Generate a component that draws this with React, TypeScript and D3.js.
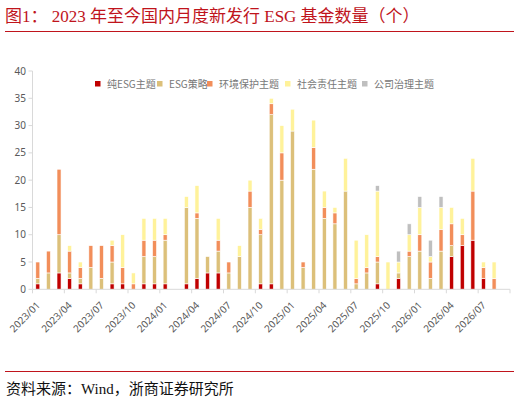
import React from "react";
import * as d3 from "d3";

const months = [
  "2023/01","2023/02","2023/03","2023/04","2023/05","2023/06","2023/07","2023/08","2023/09","2023/10","2023/11","2023/12",
  "2024/01","2024/02","2024/03","2024/04","2024/05","2024/06","2024/07","2024/08","2024/09","2024/10","2024/11","2024/12",
  "2025/01","2025/02","2025/03","2025/04","2025/05","2025/06","2025/07","2025/08","2025/09","2025/10","2025/11","2025/12",
  "2026/01","2026/02","2026/03","2026/04","2026/05","2026/06","2026/07","2026/08","2026/09",
];
const tickLabels = ["2023/01","2023/04","2023/07","2023/10","2024/01","2024/04","2024/07","2024/10","2025/01","2025/04","2025/07","2025/10","2026/01","2026/04","2026/07"];

const pureESG =   [1,0,3,2,1,0,0,1,1,0,1,1,1,0,1,2,3,3,0,0,0,1,1,0,0,0,0,0,0,0,0,0,1,0,2,0,0,0,0,6,8,9,2,0,0];
const strategy =  [1,3,7,1,1,4,2,4,0,0,5,5,8,0,14,11,3,4,3,6,15,9,31,20,29,4,22,13,12,18,1,3,4,0,1,6,7,2,7,2,0,0,0,0,0];
const environ =   [3,4,12,4,2,4,6,3,3,1,3,3,1,0,0,1,0,2,2,0,3,1,2,5,0,1,4,2,2,0,1,1,1,0,0,1,3,3,4,4,2,9,2,2,0];
const social =    [0,0,0,1,1,0,0,1,6,2,4,4,3,0,2,5,0,4,0,2,2,2,1,5,4,0,5,3,1,6,7,6,12,5,2,3,5,1,4,3,3,6,1,3,0];
const governance =[0,0,0,0,0,0,0,0,0,0,0,0,0,0,0,0,0,0,0,0,0,0,0,0,0,0,0,0,0,0,0,0,1,0,2,2,2,3,2,0,0,0,0,0,0];

const seriesNames = ["纯ESG主题", "ESG策略", "环境保护主题", "社会责任主题", "公司治理主题"];
const seriesColors = ["#C00000", "#DCC07A", "#F28E5A", "#FFF29A", "#BFBFBF"];
const yTicks = [0, 5, 10, 15, 20, 25, 30, 35, 40];

const W = 520, H = 403;
const X0 = 32.5, X1 = 510, Y0 = 289.3, Y1 = 71;
const legendX = [95, 157, 207, 285, 362];
const numFont = "'Noto Sans', sans-serif";
const cjkFont = "'Noto Sans CJK SC', 'Noto Sans', sans-serif";
const serifFont = "'Liberation Serif', 'Noto Sans CJK SC', serif";

export default function App() {
  const keys = ["s0", "s1", "s2", "s3", "s4"];
  const allSeries = [pureESG, strategy, environ, social, governance];
  const table = months.map((m, i) => {
    const row: any = { month: m };
    keys.forEach((k, j) => (row[k] = allSeries[j][i]));
    return row;
  });
  const stacked = d3.stack<any>().keys(keys)(table);

  const x = d3.scaleBand<string>().domain(months).range([X0, X1]).paddingInner(0.62).paddingOuter(0.31);
  const y = d3.scaleLinear().domain([0, 40]).range([Y0, Y1]);
  const step = x.step();
  const bw = x.bandwidth();

  const tickIdx = d3.range(0, months.length + 1, 3);

  return (
    <svg width={W} height={H} style={{ position: "absolute", left: 0, top: 0, background: "#fff" }}>
      <rect x={0} y={0} width={W} height={H} fill="#fff" />
      {/* title */}
      <text x={5} y={22} fontFamily={serifFont} fontSize={17} fill="#C0141C">
        图1：  2023 年至今国内月度新发行 ESG 基金数量（个）
      </text>
      <line x1={5} x2={514} y1={31.5} y2={31.5} stroke="#C0141C" strokeWidth={1} />

      {/* legend */}
      {seriesNames.map((n, i) => (
        <g key={n}>
          <rect x={legendX[i]} y={81} width={5.5} height={5.5} fill={seriesColors[i]} />
          <text x={legendX[i] + 12} y={88} fontFamily={cjkFont} fontSize={10} fill="#777">
            {n}
          </text>
        </g>
      ))}

      {/* y axis */}
      <line x1={X0} x2={X0} y1={y(40)} y2={Y0} stroke="#D9D9D9" />
      {yTicks.map((t) => (
        <g key={t}>
          <line x1={X0 - 4} x2={X0} y1={y(t)} y2={y(t)} stroke="#D9D9D9" />
          <text x={26} y={y(t) + 3.5} textAnchor="end" fontFamily={numFont} fontSize={10} fill="#595959">
            {t}
          </text>
        </g>
      ))}

      {/* bars */}
      {stacked.map((s, si) =>
        s.map((d, i) => {
          const v = d[1] - d[0];
          if (v <= 0) return null;
          return (
            <rect
              key={si + "-" + i}
              x={x(months[i])}
              y={y(d[1])}
              width={bw}
              height={y(d[0]) - y(d[1])}
              fill={seriesColors[si]}
              stroke="#fff"
              strokeWidth={0.6}
            />
          );
        })
      )}

      {/* x axis */}
      <line x1={X0} x2={X1} y1={Y0} y2={Y0} stroke="#D9D9D9" />
      {tickIdx.map((i) => (
        <line key={i} x1={X0 + i * step} x2={X0 + i * step} y1={Y0} y2={Y0 + 4} stroke="#D9D9D9" />
      ))}
      {tickLabels.map((l) => {
        const cx = (x(l) as number) + bw / 2 + 3;
        const cy = 306;
        return (
          <text
            key={l}
            x={cx}
            y={cy}
            transform={`rotate(-45 ${cx} ${cy})`}
            textAnchor="end"
            fontFamily={numFont}
            fontSize={10}
            fill="#595959"
          >
            {l}
          </text>
        );
      })}

      {/* footer */}
      <line x1={5} x2={514} y1={371.5} y2={371.5} stroke="#C0141C" strokeWidth={1} />
      <text x={6} y={394} fontFamily={serifFont} fontSize={15} fill="#111">
        资料来源：Wind，浙商证券研究所
      </text>
    </svg>
  );
}
